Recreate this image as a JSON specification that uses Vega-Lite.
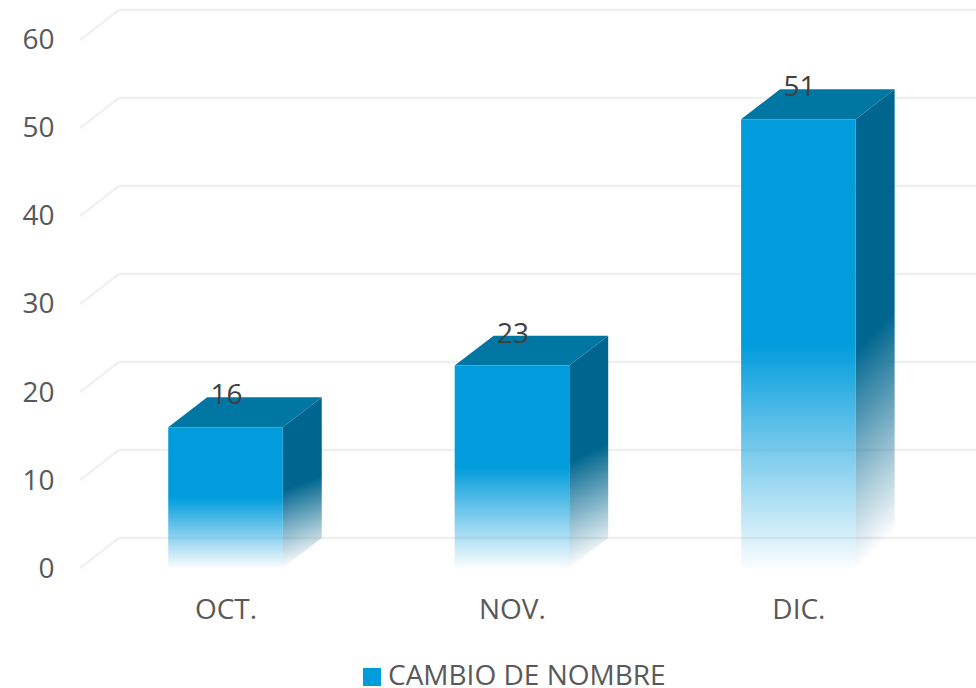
{
"$schema":"https://vega.github.io/schema/vega-lite/v6.json",
"width":896,"height":688,
"autosize":{"type":"none"},
"padding":{"left":80,"top":0,"right":0,"bottom":0},
"background":"white",
"datasets":{
"bars":[{"month":"OCT.","pos":0,"value":16,"series":"CAMBIO DE NOMBRE"},{"month":"NOV.","pos":1,"value":23,"series":"CAMBIO DE NOMBRE"},{"month":"DIC.","pos":2,"value":51,"series":"CAMBIO DE NOMBRE"}],
"grid":[{"tick":0},{"tick":10},{"tick":20},{"tick":30},{"tick":40},{"tick":50},{"tick":60}]
},
"config":{"view":{"stroke":null},"font":"Open Sans"},
"layer":[
{"data":{"name":"grid"},
 "transform":[{"calculate":"-0.508","as":"xa"},{"calculate":"-0.372","as":"xb"},{"calculate":"datum.tick+3.4","as":"yb"}],
 "mark":{"type":"rule","color":"#f0f0f0","strokeWidth":2.5},
 "encoding":{"x":{"field":"xa","type":"quantitative","scale":{"domain":[-0.508,2.62],"nice":false,"zero":false,"padding":0},"axis":{"values":[0,1,2],"labelExpr":"['OCT.','NOV.','DIC.'][datum.value]","title":null,"grid":false,"domain":false,"ticks":false,"labelFontSize":28,"labelColor":"#595959","labelPadding":0,"offset":-92,"labelFont":"Open Sans"}},"x2":{"field":"xb"},
 "y":{"field":"tick","type":"quantitative","scale":{"domain":[-13.636,64.545],"nice":false,"zero":false,"padding":0},"axis":{"values":[0,10,20,30,40,50,60],"title":null,"grid":false,"domain":false,"ticks":false,"labelFontSize":28,"labelColor":"#595959","labelPadding":26,"labelOffset":1,"labelFont":"Open Sans"}},"y2":{"field":"yb"}}},
{"data":{"name":"grid"},
 "transform":[{"calculate":"-0.372","as":"xb"},{"calculate":"2.62","as":"xc"},{"calculate":"datum.tick+3.4","as":"yb"}],
 "mark":{"type":"rule","color":"#f0f0f0","strokeWidth":2.5},
 "encoding":{"x":{"field":"xb","type":"quantitative"},"x2":{"field":"xc"},"y":{"field":"yb","type":"quantitative"}}},
{"data":{"name":"bars"},
 "transform":[{"calculate":"[0,1]","as":"d"},{"flatten":["d"]},{"calculate":"datum.pos+0.2+datum.d*0.136","as":"sx"},{"calculate":"datum.d*3.4","as":"lo"},{"calculate":"datum.value+datum.d*3.4","as":"hi"}],
 "mark":{"type":"area","orient":"vertical","color":{"gradient":"linear","x1":0,"y1":0,"x2":0.08,"y2":1,"stops":[{"offset":0,"color":"rgba(0,102,143,1)"},{"offset":0.54,"color":"rgba(0,102,143,1)"},{"offset":1,"color":"rgba(0,102,143,0)"}]}},
 "encoding":{"x":{"field":"sx","type":"quantitative"},"y":{"field":"hi","type":"quantitative","stack":null},"y2":{"field":"lo"},"detail":{"field":"month"}}},
{"data":{"name":"bars"},
 "transform":[{"calculate":"[0,1]","as":"d"},{"flatten":["d"]},{"calculate":"datum.pos-0.2+datum.d*0.136","as":"tl"},{"calculate":"datum.pos+0.2+datum.d*0.136","as":"tr"},{"calculate":"datum.value+datum.d*3.4","as":"ty"}],
 "mark":{"type":"area","orient":"horizontal","color":"#0076a3"},
 "encoding":{"y":{"field":"ty","type":"quantitative"},"x":{"field":"tl","type":"quantitative","stack":null},"x2":{"field":"tr"},"detail":{"field":"month"}}},
{"data":{"name":"bars"},
 "transform":[{"calculate":"datum.pos-0.2","as":"bl"},{"calculate":"datum.pos+0.2","as":"br"}],
 "mark":{"type":"bar","color":{"gradient":"linear","x1":0,"y1":0,"x2":0,"y2":1,"stops":[{"offset":0,"color":"rgba(0,156,220,1)"},{"offset":0.5,"color":"rgba(0,156,220,1)"},{"offset":1,"color":"rgba(0,156,220,0.02)"}]}},
 "encoding":{"x":{"field":"bl","type":"quantitative"},"x2":{"field":"br"},
 "y":{"field":"value","type":"quantitative","stack":null},"y2":{"datum":0}}},
{"data":{"name":"bars"},
 "mark":{"type":"bar"},
 "encoding":{"x":{"field":"pos","type":"quantitative"},"y":{"datum":0,"type":"quantitative"},"y2":{"datum":0},
 "color":{"field":"series","type":"nominal","scale":{"range":["#009cdc"]},"legend":{"orient":"none","legendX":278,"legendY":663,"title":null,"symbolType":"square","symbolSize":324,"symbolStrokeWidth":0,"labelFontSize":28,"labelOffset":2,"labelColor":"#595959","labelFont":"Open Sans","padding":0,"labelLimit":400}}}},
{"data":{"name":"bars"},
 "transform":[{"calculate":"datum.value+3.5","as":"ly"}],
 "mark":{"type":"text","fontSize":28,"color":"#404040","align":"center","baseline":"middle","font":"Open Sans","dx":1},
 "encoding":{"x":{"field":"pos","type":"quantitative"},"y":{"field":"ly","type":"quantitative"},"text":{"field":"value","type":"quantitative"}}}
]
}
